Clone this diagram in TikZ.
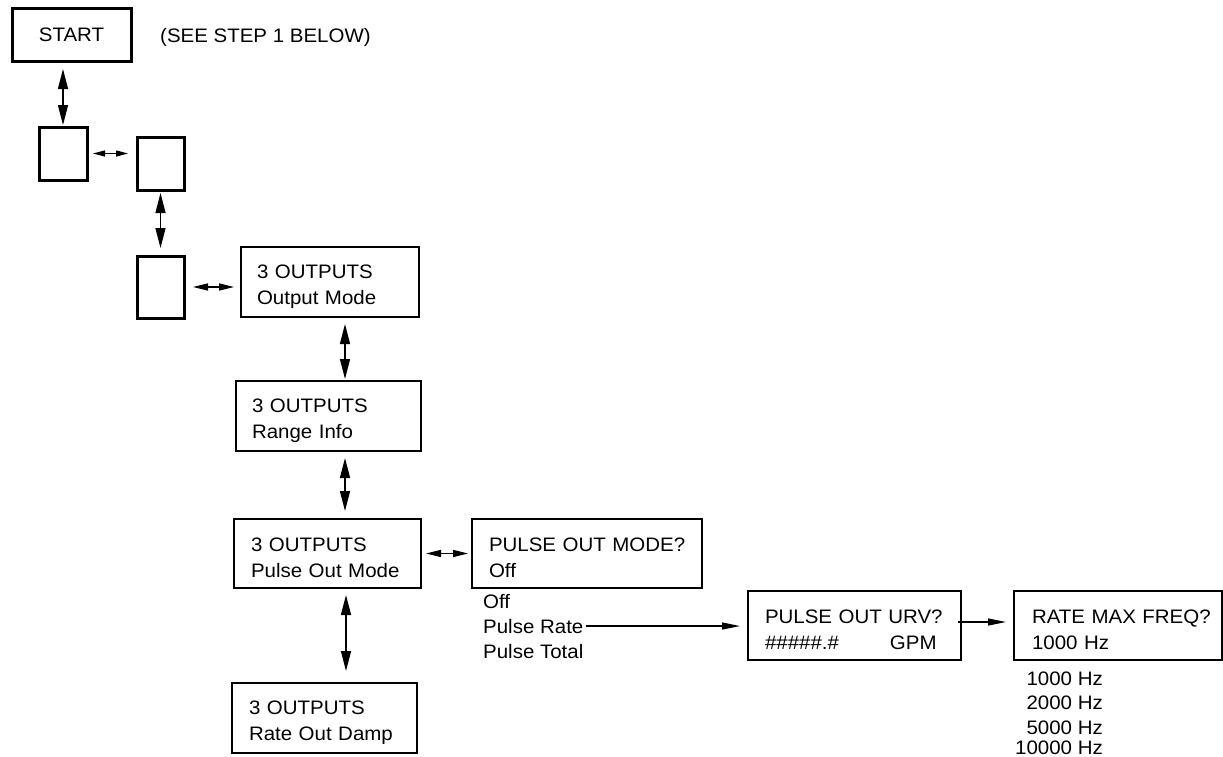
\documentclass[tikz,border=0pt]{standalone}
\usepackage{fontspec}
\setmainfont{Liberation Sans}[FakeStretch=1.05]
\usepackage{tikz}
\usetikzlibrary{arrows.meta, positioning, calc}
\tikzset{
  basebox/.style={rectangle,draw=black,line width=1.3pt,outer sep=0pt,inner ysep=0pt,
                  anchor=north west,align=left,font=\menufont,
                  execute at begin node=\rule{0pt}{23pt}},
  blankbox/.style={rectangle,draw=black,line width=3pt,outer sep=0pt,inner sep=0pt,anchor=north west},
  startbox/.style={blankbox,font=\menufont},
  optlabel/.style={inner sep=0pt,font=\menufont},
  dblarr/.style={{Triangle[length=20pt,width=10pt]}-{Triangle[length=20pt,width=10pt]},line width=1.4pt},
  sidearr/.style={{Triangle[length=15pt,width=7pt]}-{Triangle[length=15pt,width=7pt]},line width=1.4pt},
  shortarr/.style={{Triangle[length=12pt,width=6pt]}-{Triangle[length=12pt,width=6pt]},line width=1.4pt},
  arr/.style={-{Triangle[length=18pt,width=7pt]},line width=1.2pt}
}
\newcommand{\menufont}{\fontsize{19.5}{26}\selectfont}

\begin{document}
\begin{tikzpicture}[x=1pt,y=-1pt]
  \useasboundingbox (0,0) rectangle (1223,756);

  %% Start and blank screens
  \node[startbox,minimum width=119pt,minimum height=53pt] (start) at (12,8) {START};
  \node[optlabel,anchor=base west] (seestep) at (160,42) {(SEE STEP 1 BELOW)};
  \node[blankbox,minimum width=48pt,minimum height=53pt] (blankA) at (39,127) {};
  \node[blankbox,minimum width=47pt,minimum height=53pt] (blankB) at (137,137) {};
  \node[blankbox,minimum width=47pt,minimum height=62pt] (blankC) at (137,256) {};

  %% 3 OUTPUTS column
  \node[basebox,inner xsep=16pt,text width=146pt,minimum height=70pt] (outMode) at (241,247)
      {3~OUTPUTS\\Output~Mode};
  \node[basebox,inner xsep=16pt,text width=153pt,minimum height=70pt] (rangeInfo) at (236,381)
      {3~OUTPUTS\\Range~Info};
  \node[basebox,inner xsep=17pt,text width=153pt,minimum height=69pt] (pulseMode) at (234,519)
      {3~OUTPUTS\\Pulse~Out~Mode};
  \node[basebox,inner xsep=17pt,text width=151pt,minimum height=70pt] (rateDamp) at (232,683)
      {3~OUTPUTS\\Rate~Out~Damp};

  %% Pulse output branch
  \node[basebox,inner xsep=17pt,text width=196pt,minimum height=69pt] (pulseQ) at (472,519)
      {PULSE~OUT~MODE?\\Off};
  \node[optlabel,anchor=base west] (optOff)   at (483,608) {Off};
  \node[optlabel,anchor=base west] (optRate)  at (483,633) {Pulse Rate};
  \node[optlabel,anchor=base west] (optTotal) at (483,658) {Pulse Total};

  \node[basebox,inner xsep=17pt,text width=179pt,minimum height=69pt] (urvQ) at (748,591)
      {PULSE~OUT~URV?\\\makebox[125pt][l]{\#\#\#\#\#.\#}GPM};
  \node[basebox,inner xsep=18pt,text width=172pt,minimum height=69pt] (freqQ) at (1014,591)
      {RATE~MAX~FREQ?\\1000~Hz};

  %% Frequency choices
  \node[optlabel,anchor=base east] (hzA) at (1103,685) {1000 Hz};
  \node[optlabel,anchor=base east] (hzB) at (1103,709) {2000 Hz};
  \node[optlabel,anchor=base east] (hzC) at (1103,734) {5000 Hz};
  \node[optlabel,anchor=base east] (hzD) at (1103,754) {10000 Hz};

  %% Connectors
  \draw[dblarr,shorten <=8pt,shorten >=2pt] (start.south -| blankA.north) -- (blankA.north);
  \draw[shortarr,shorten <=6pt,shorten >=9pt] (blankA.east) -- (blankA.east -| blankB.west);
  \draw[dblarr,shorten <=3pt,shorten >=8pt] (blankB.south) -- (blankC.north);
  \draw[sidearr,shorten <=9pt,shorten >=7pt] (blankC.east) -- (blankC.east -| outMode.west);
  \draw[dblarr,shorten <=7pt,shorten >=2pt] ([xshift=15pt]outMode.south)
      -- ([xshift=15pt]outMode.south |- rangeInfo.north);
  \draw[dblarr,shorten <=7pt,shorten >=8pt] ([xshift=16.5pt]rangeInfo.south)
      -- ([xshift=16.5pt]rangeInfo.south |- pulseMode.north);
  \draw[dblarr,shorten <=7pt,shorten >=12pt] ([xshift=18.5pt]pulseMode.south)
      -- ([xshift=18.5pt]pulseMode.south |- rateDamp.north);
  \draw[sidearr,shorten <=5pt,shorten >=4pt] (pulseMode.east) -- (pulseQ.west);
  \draw[arr,shorten <=2pt,shorten >=8pt] (optRate.east) -- (optRate.east -| urvQ.west);
  \draw[arr,shorten >=8pt] ([xshift=-3pt,yshift=3.5pt]urvQ.east) -- ([yshift=3.5pt]freqQ.west);
\end{tikzpicture}
\end{document}
